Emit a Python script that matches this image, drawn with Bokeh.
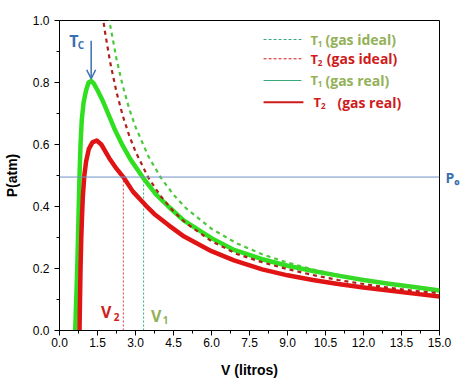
from bokeh.plotting import figure
from bokeh.models import (FixedTicker, PrintfTickFormatter, Span, Label, Arrow,
                          OpenHead, LinearAxis, CustomJSTickFormatter)
from bokeh.embed import file_html
from bokeh.resources import INLINE

# ---------------- data ----------------
v_real_t1 = [0.61, 0.62, 0.66, 0.70, 0.73, 0.76, 0.79, 0.83, 0.88, 0.95, 1.05, 1.15,
             1.25, 1.35, 1.50, 1.70, 1.97, 2.20, 2.49, 2.80, 3.28, 3.80, 4.30, 4.90,
             6.00, 6.89, 8.00, 9.00, 10.0, 11.0, 12.0, 13.0, 14.0, 15.0]
p_real_t1 = [-0.05, 0.0, 0.10, 0.20, 0.30, 0.40, 0.50, 0.60, 0.68, 0.735, 0.775, 0.800,
             0.805, 0.797, 0.775, 0.742, 0.690, 0.645, 0.597, 0.552, 0.495, 0.440, 0.400, 0.355,
             0.298, 0.260, 0.230, 0.209, 0.192, 0.177, 0.163, 0.151, 0.140, 0.129]

v_real_t2 = [0.78, 0.79, 0.81, 0.83, 0.86, 0.89, 0.92, 0.98, 1.05, 1.16, 1.30, 1.47,
             1.65, 1.97, 2.25, 2.52, 2.90, 3.41, 3.74, 4.30, 4.92, 6.00, 6.89, 8.0,
             9.0, 10.0, 11.0, 12.0, 13.0, 14.0, 15.0]
p_real_t2 = [-0.05, 0.0, 0.10, 0.20, 0.30, 0.37, 0.43, 0.50, 0.545, 0.586, 0.607, 0.613,
             0.600, 0.555, 0.522, 0.495, 0.448, 0.403, 0.376, 0.340, 0.303, 0.256, 0.226, 0.197,
             0.178, 0.163, 0.150, 0.139, 0.129, 0.119, 0.110]

v_ideal_t1 = [1.90, 2.0, 2.25, 2.5, 2.75, 3.0, 3.5, 4.0, 4.5, 5.0, 6.0, 7.0, 8.0, 9.0,
              10.0, 11.0, 12.0, 13.0, 14.0, 15.0]
p_ideal_t1 = [1.037, 0.985, 0.876, 0.788, 0.716, 0.657, 0.563, 0.493, 0.438, 0.394, 0.328,
              0.281, 0.246, 0.219, 0.197, 0.179, 0.164, 0.152, 0.141, 0.131]

v_ideal_t2 = [1.70, 1.8, 2.0, 2.25, 2.5, 2.75, 3.0, 3.5, 4.0, 4.5, 5.0, 6.0, 7.0, 8.0,
              9.0, 10.0, 11.0, 12.0, 13.0, 14.0, 15.0]
p_ideal_t2 = [1.018, 0.961, 0.865, 0.769, 0.692, 0.629, 0.577, 0.494, 0.433, 0.384, 0.346,
              0.288, 0.247, 0.220, 0.198, 0.179, 0.163, 0.150, 0.138, 0.128, 0.120]

p0 = 0.495
v1 = 3.32
v2 = 2.52

x_ticks = [0.0, 1.5, 3.0, 4.5, 6.0, 7.5, 9.0, 10.5, 12.0, 13.5, 15.0]
x_minor = [0.75, 2.25, 3.75, 5.25, 6.75, 8.25, 9.75, 11.25, 12.75, 14.25]
y_ticks = [0.0, 0.2, 0.4, 0.6, 0.8, 1.0]
y_minor = [0.1, 0.3, 0.5, 0.7, 0.9]

legend_subs = ["1", "2", "1", "2"]
legend_texts = ["(gas ideal)", "(gas ideal)", "(gas real)", "(gas real)"]

# ---------------- styles ----------------
GREEN = "#30e020"
RED = "#e01414"
GREEN_D = "#4cc83c"
RED_D = "#b0201a"
BLUE = "#6f94c6"
BLUE_T = "#3a70b0"
OLIVE = "#92b158"
LEG_RED = "#cf1b1b"
TEAL = "#3aa87a"
FONT = "Open Sans"

p = figure(width=469, height=384, x_range=(0, 15), y_range=(0, 1),
           output_backend="svg", toolbar_location=None,
           min_border_left=58, min_border_top=20, min_border_right=30, min_border_bottom=54,
           background_fill_color="white", border_fill_color="white")
p.grid.visible = False
p.outline_line_color = "black"
p.outline_line_width = 1

for ax in (p.xaxis[0], p.yaxis[0]):
    ax.axis_line_color = "black"
    ax.major_tick_line_color = "black"
    ax.minor_tick_line_color = "black"
    ax.major_tick_out = 5
    ax.major_tick_in = 0
    ax.minor_tick_out = 3
    ax.minor_tick_in = 0
    ax.major_label_text_font = "Liberation Sans"
    ax.major_label_text_font_size = "12px"
    ax.major_label_text_color = "black"
    ax.axis_label_text_font = "Liberation Sans"
    ax.axis_label_text_font_size = "14px"
    ax.axis_label_text_font_style = "bold"
    ax.axis_label_text_color = "black"
    ax.formatter = PrintfTickFormatter(format="%.1f")

p.xaxis[0].ticker = FixedTicker(ticks=x_ticks, minor_ticks=x_minor)
p.yaxis[0].ticker = FixedTicker(ticks=y_ticks, minor_ticks=y_minor)
p.xaxis[0].axis_label = "V (litros)"
p.yaxis[0].axis_label = "P(atm)"
p.xaxis[0].major_label_standoff = 2
p.yaxis[0].major_label_standoff = 5
p.xaxis[0].axis_label_standoff = 12
p.yaxis[0].axis_label_standoff = 10

# right axis carrying the P0 label
p0_axis = LinearAxis(ticker=FixedTicker(ticks=[p0], minor_ticks=[]),
                     formatter=CustomJSTickFormatter(code="return 'P\u2080'"),
                     axis_line_color=None, major_tick_line_color=None,
                     minor_tick_line_color=None, major_tick_out=0, major_tick_in=0,
                     major_label_standoff=6, major_label_text_color=BLUE_T,
                     major_label_text_font=FONT, major_label_text_font_size="14px",
                     major_label_text_font_style="bold")
p.add_layout(p0_axis, "right")

# P0 horizontal line
p.add_layout(Span(location=p0, dimension="width", line_color=BLUE, line_width=1))

# vertical dashed lines V2, V1
p.segment(x0=[v2], y0=[0], x1=[v2], y1=[p0], line_color="#e83a3a", line_width=1, line_dash="2 2")
p.segment(x0=[v1], y0=[0], x1=[v1], y1=[p0], line_color="#2ab070", line_width=1, line_dash="2 2")

# real gas curves
p.line(v_real_t1, p_real_t1, line_color=GREEN, line_width=4.5, line_join="round")
p.line(v_real_t2, p_real_t2, line_color=RED, line_width=4.5, line_join="round")
# ideal gas curves
p.line(v_ideal_t1, p_ideal_t1, line_color=GREEN_D, line_width=2.2, line_dash="4 4")
p.line(v_ideal_t2, p_ideal_t2, line_color=RED_D, line_width=2.2, line_dash="4 4")

# ---------------- annotations ----------------
def lab(x, y, text, color, size, xo=0, yo=0):
    p.add_layout(Label(x=x, y=y, text=text, text_color=color, text_font=FONT,
                       text_font_size=size, text_font_style="bold",
                       text_baseline="middle", text_align="left", x_offset=xo, y_offset=yo))

# Tc
lab(0.38, 0.935, "T", BLUE_T, "16px")
lab(0.72, 0.92, "C", BLUE_T, "10px")
p.add_layout(Arrow(x_start=1.25, y_start=0.935, x_end=1.25, y_end=0.812,
                   line_color=BLUE_T, line_width=1.5,
                   end=OpenHead(size=9, line_color=BLUE_T, line_width=1.5)))
# V2, V1
lab(1.64, 0.061, "V", "#d22020", "16px")
lab(2.14, 0.045, "2", "#d22020", "10px")
lab(3.61, 0.048, "V", OLIVE, "16px")
lab(4.08, 0.035, "1", OLIVE, "10px")

# legend (manual)
leg_y = [0.9387, 0.8765, 0.8065, 0.7365]
leg_color = [OLIVE, LEG_RED, OLIVE, LEG_RED]
leg_line = [(TEAL, 1, "3 2"), (LEG_RED, 1, "3 2"), (TEAL, 1.2, "solid"), (LEG_RED, 2, "solid")]
leg_tx = [9.908, 9.908, 9.908, 10.03]
leg_px = [10.50, 10.55, 10.50, 10.97]
for i in range(4):
    lc, lw, ld = leg_line[i]
    p.add_layout(Arrow(x_start=8.055, y_start=leg_y[i], x_end=9.55 if i < 3 else 9.63,
                       y_end=leg_y[i], line_color=lc, line_width=lw, line_dash=ld, end=None))
    lab(leg_tx[i], leg_y[i], "T", leg_color[i], "13px")
    lab(leg_tx[i] + 0.29, leg_y[i], legend_subs[i], leg_color[i], "8px", yo=-4)
    lab(leg_px[i], leg_y[i], legend_texts[i], leg_color[i], "14px")

open("out.html", "w").write(file_html(p, INLINE))
